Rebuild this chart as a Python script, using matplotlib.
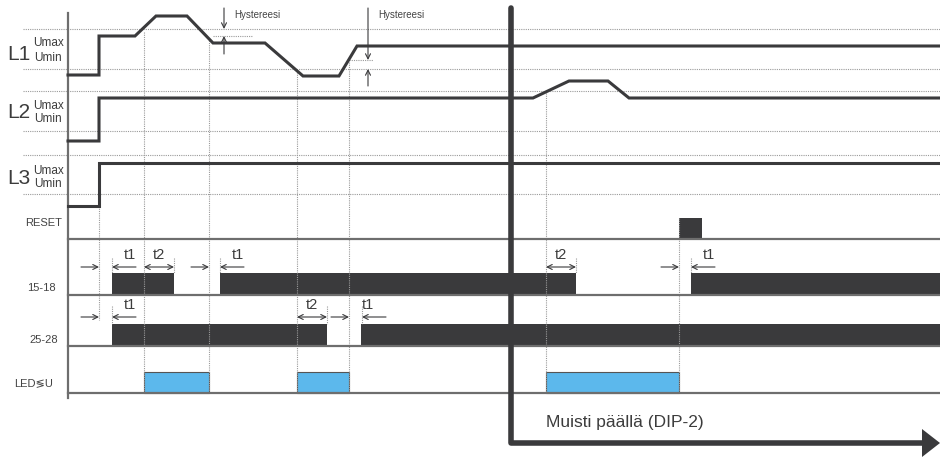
import matplotlib
matplotlib.use("Agg")
import matplotlib.pyplot as plt
from matplotlib.patches import Rectangle, Polygon

# ---- diagram data (time axis in px-like units, levels on the same vertical scale) ----
t_start, t_end = 68, 940

# Phase signals: (time, level) break points
L1_t = [68, 99, 99, 135, 156, 187, 213, 265, 303, 339, 357, 940]
L1_v = [75, 75, 36, 36, 16, 16, 43, 43, 76, 76, 46, 46]
L2_t = [68, 99, 99, 533, 569, 608, 629, 940]
L2_v = [141, 141, 98, 98, 81, 81, 98, 98]
L3_t = [68, 99, 99, 940]
L3_v = [206, 206, 163, 163]

# Umax / Umin reference levels for each phase
ref_levels = [29, 69, 91, 131, 155, 194]
phase_labels = ["L1", "L2", "L3"]
phase_label_y = [55, 113, 178]
umax_y = [43, 106, 171]
umin_y = [58, 119, 184]

# Digital rows: baseline, top, on-intervals
reset_pulses = [(679, 702)]
relay_1518 = [(112, 174), (220, 576), (691, 940)]
relay_2528 = [(112, 327), (361, 940)]
led_on = [(144, 209), (297, 349), (546, 679)]
row_names = ["RESET", "15-18", "25-28", "LED\u2276U"]
row_base = [239, 295, 346, 393]
row_top = [218, 273, 324, 372]
row_label_y = [223, 288, 340, 383]
row_label_x = [62, 56, 58, 53]

# Event markers (dotted verticals): time, top, bottom
event_lines = [(99, 206, 320), (144, 32, 393), (209, 38, 393), (297, 72, 393),
               (349, 62, 393), (546, 93, 393), (679, 218, 393)]
short_marks = [(112, 258, 273), (174, 258, 273), (220, 258, 273), (576, 258, 273),
               (691, 258, 273), (112, 306, 324), (327, 306, 324), (362, 306, 324)]
hyst_lines = [(213, 252, 36), (349, 373, 60)]
# hysteresis arrows: x, top, down-arrow tip, up-arrow tip, bottom
hyst_arrows = [(224, 8, 29, 36, 54), (368, 8, 60, 69, 86)]

# Delay annotations: (kind, start, end, arrow y, label x, label y, label)
delays = [
    ("t", 99, 112, 267, 130, 255, "t1"),
    ("d", 144, 174, 267, 159, 255, "t2"),
    ("t", 209, 220, 267, 238, 255, "t1"),
    ("d", 546, 576, 267, 561, 255, "t2"),
    ("t", 679, 691, 267, 709, 255, "t1"),
    ("t", 99, 112, 317, 130, 305, "t1"),
    ("d", 297, 327, 317, 312, 305, "t2"),
    ("t", 349, 362, 317, 368, 305, "t1"),
]

memory_t = 511
memory_y = 443

# ---- drawing ----
ink = "#3a3a3c"
grid = "#9a9a9a"
base = "#6e6e6e"
blue = "#5cb8ec"
narrow = ["Liberation Sans Narrow", "Liberation Sans", "DejaVu Sans"]

fig = plt.figure(figsize=(9.4, 4.57), dpi=100)
ax = fig.add_axes([0, 0, 1, 1])
ax.set_xlim(0, 940)
ax.set_ylim(457, 0)
ax.axis("off")

dot = (0, (1, 1))
for y in ref_levels:
    ax.plot([23, 940], [y, y], color=grid, lw=0.8, ls=dot)
for x0, x1, y in hyst_lines:
    ax.plot([x0, x1], [y, y], color=grid, lw=0.8, ls=dot)
for x, y0, y1 in event_lines + short_marks:
    ax.plot([x, x], [y0, y1], color=grid, lw=0.8, ls=dot)

# left time axis
ax.plot([t_start, t_start], [13, 398], color=base, lw=1.6)

for tt, vv in [(L1_t, L1_v), (L2_t, L2_v), (L3_t, L3_v)]:
    ax.plot(tt, vv, color=ink, lw=2.2, solid_joinstyle="miter")

for name, y, uy, ly in zip(phase_labels, phase_label_y, umax_y, umin_y):
    ax.text(19, y, name, fontsize=15, family=narrow, color="#3c3c3c", ha="center", va="center")
    ax.text(48, uy, "Umax", fontsize=8.5, family=narrow, color="#3c3c3c", ha="center", va="center")
    ax.text(48, ly, "Umin", fontsize=8.5, family=narrow, color="#3c3c3c", ha="center", va="center")

# digital rows
rows = [reset_pulses, relay_1518, relay_2528, led_on]
for i, (ivals, yb, yt) in enumerate(zip(rows, row_base, row_top)):
    ax.plot([t_start, t_end], [yb, yb], color=base, lw=1.6)
    for a, b in ivals:
        if i == 3:
            ax.add_patch(Rectangle((a, yt), b - a, yb - yt, facecolor=blue,
                                   edgecolor="#555555", lw=0.8))
        else:
            ax.add_patch(Rectangle((a, yt), b - a, yb - yt, facecolor=ink,
                                   edgecolor="none"))
for name, x, y in zip(row_names, row_label_x, row_label_y):
    ax.text(x, y, name, fontsize=8, family=narrow, color="#444444",
            ha="right", va="center")

# hysteresis arrows
arr = dict(arrowstyle="->", color=ink, lw=0.8, shrinkA=0, shrinkB=0, mutation_scale=9)
for x, top, tip_d, tip_u, bot in hyst_arrows:
    ax.annotate("", xy=(x, tip_d), xytext=(x, top), arrowprops=arr)
    ax.annotate("", xy=(x, tip_u), xytext=(x, bot), arrowprops=arr)
    ax.text(x + 10, 15, "Hystereesi", fontsize=7, family=narrow, color="#444444",
            ha="left", va="center")

# delay arrows
for kind, a, b, y, lx, ly, lab in delays:
    if kind == "t":
        ax.annotate("", xy=(a, y), xytext=(a - 18, y), arrowprops=arr)
        ax.annotate("", xy=(b, y), xytext=(b + 24, y), arrowprops=arr)
    else:
        ax.annotate("", xy=(b, y), xytext=(a, y),
                    arrowprops=dict(arr, arrowstyle="<->"))
    ax.text(lx, ly, lab, fontsize=10.5, family=narrow, color="#3c3c3c",
            ha="center", va="center")

# memory (DIP-2) marker
ax.plot([memory_t, memory_t, 924], [8, memory_y, memory_y], color=ink, lw=4,
        solid_joinstyle="round", solid_capstyle="round")
ax.add_patch(Polygon([(922, memory_y - 14), (940, memory_y), (922, memory_y + 14)],
                     closed=True, facecolor=ink, edgecolor="none"))
ax.text(546, 423, "Muisti päällä (DIP-2)", fontsize=12.5, family=narrow,
        color="#3c3c3c", ha="left", va="center")

fig.savefig("out.png", dpi=100)
